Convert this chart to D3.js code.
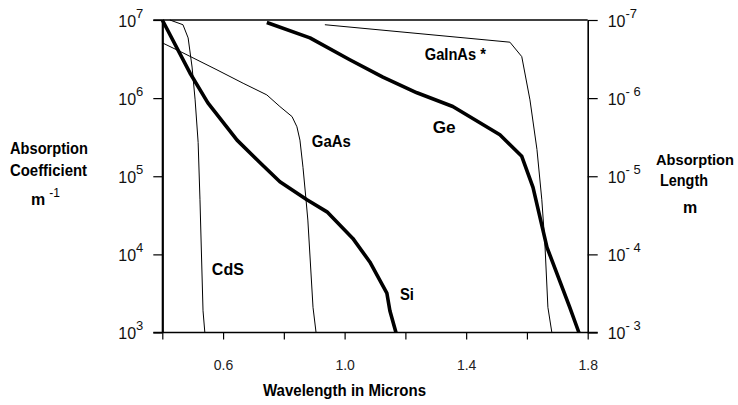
<!DOCTYPE html>
<html>
<head>
<meta charset="utf-8">
<script src="https://cdn.jsdelivr.net/npm/d3@7/dist/d3.min.js"></script>
<style>
  html, body { margin: 0; padding: 0; background: #fff; }
  svg { display: block; font-family: "Liberation Sans", Arial, Helvetica, sans-serif; }
</style>
</head>
<body>
<svg id="chart" width="738" height="405"></svg>
<script>
// ---------- data ----------
const wavelengthTicks = [0.4, 0.6, 0.8, 1.0, 1.2, 1.4, 1.6, 1.8];
const wavelengthLabels = [0.6, 1.0, 1.4, 1.8];
const alphaTicks = [1e3, 1e4, 1e5, 1e6, 1e7];
const alphaExponents = ["3", "4", "5", "6", "7"];
const lengthTicks = [1e-3, 1e-4, 1e-5, 1e-6, 1e-7];
const lengthExponents = ["- 3", "- 4", "- 5", "- 6", "-7"];

const siWavelength = [0.400, 0.491, 0.550, 0.646, 0.721, 0.787, 0.876, 0.942, 1.027, 1.083, 1.139, 1.149, 1.169];
const siAlpha      = [1e7, 2.1e6, 8.7e5, 2.9e5, 1.5e5, 8.5e4, 5.0e4, 3.5e4, 1.6e4, 8.0e3, 3.2e3, 1.9e3, 1e3];

const cdsWavelength = [0.425, 0.468, 0.485, 0.498, 0.508, 0.518, 0.524, 0.534, 0.540];
const cdsAlpha      = [1e7, 8.7e6, 5.9e6, 2.5e6, 9.5e5, 2.7e5, 5.0e4, 1.9e3, 1e3];

const gaasWavelength = [0.400, 0.468, 0.580, 0.666, 0.744, 0.787, 0.827, 0.843, 0.853, 0.863, 0.873, 0.879, 0.896, 0.906];
const gaasAlpha      = [5.1e6, 3.8e6, 2.3e6, 1.55e6, 1.1e6, 7.8e5, 5.8e5, 4.3e5, 2.9e5, 1.3e5, 5.0e4, 2.75e4, 2.1e3, 1e3];

const geWavelength = [0.744, 0.886, 1.017, 1.126, 1.238, 1.356, 1.511, 1.583, 1.620, 1.666, 1.741, 1.771];
const geAlpha      = [9.3e6, 5.9e6, 3.1e6, 1.86e6, 1.17e6, 7.8e5, 3.4e5, 1.8e5, 7.2e4, 1.23e4, 2.1e3, 1e3];

const gainasWavelength = [0.935, 1.544, 1.583, 1.610, 1.633, 1.649, 1.659, 1.669, 1.682];
const gainasAlpha      = [8.7e6, 5.2e6, 3.4e6, 9.5e5, 2.2e5, 5.0e4, 1.4e4, 2.1e3, 1e3];

const seriesNames = ["Si", "CdS", "GaAs", "Ge", "GaInAs *"];
// label anchors in data units (wavelength, alpha)
const labelWavelength = [1.182, 0.563, 0.892, 1.290, 1.264];
const labelAlpha      = [2.6e3, 5.4e3, 2.37e5, 3.57e5, 3.08e6];

// ---------- layout ----------
const svg = d3.select("#chart");
const x = d3.scaleLinear().domain([0.4, 1.8]).range([162.3, 587.7]);
const y = d3.scaleLog().domain([1e3, 1e7]).range([332.5, 20]);
const yR = d3.scaleLog().domain([1e-3, 1e-7]).range([332.5, 20]);

const series = [
  {w: siWavelength, a: siAlpha, width: 3.6},
  {w: cdsWavelength, a: cdsAlpha, width: 1},
  {w: gaasWavelength, a: gaasAlpha, width: 1},
  {w: geWavelength, a: geAlpha, width: 3.6},
  {w: gainasWavelength, a: gainasAlpha, width: 1}
];

// frame lines
const [x0, x1] = x.range();
const yTop = y(1e7), yBot = y(1e3);
svg.append("line").attr("x1", x0 - 9).attr("x2", x1).attr("y1", yTop).attr("y2", yTop)
  .attr("stroke", "#000").attr("stroke-width", 1.6);
svg.append("line").attr("x1", x0 - 9).attr("x2", x1 + 10).attr("y1", yBot).attr("y2", yBot)
  .attr("stroke", "#000").attr("stroke-width", 1.6);

// left axis
const gL = svg.append("g").attr("transform", `translate(${x0},0)`)
  .call(d3.axisLeft(y).tickValues(alphaTicks).tickSize(9).tickSizeOuter(0).tickFormat(""));
gL.select(".domain").attr("stroke-width", 2.2);
gL.selectAll(".tick line").attr("stroke-width", 1.2);
gL.selectAll(".tick").each(function(d, i) {
  const t = d3.select(this).append("text").attr("x", -19).attr("y", 6)
    .attr("text-anchor", "end").attr("fill", "#111").attr("font-size", 16);
  t.append("tspan").text("10");
  t.append("tspan").attr("font-size", 13).attr("dy", -9).text(alphaExponents[i]);
});

// right axis
const gR = svg.append("g").attr("transform", `translate(${x1},0)`)
  .call(d3.axisRight(yR).tickValues(lengthTicks).tickSize(10).tickSizeOuter(0).tickFormat(""));
gR.select(".domain").attr("stroke-width", 1.6);
gR.selectAll(".tick line").attr("stroke-width", 1.2);
gR.selectAll(".tick").each(function(d, i) {
  const t = d3.select(this).append("text").attr("x", 20).attr("y", 6)
    .attr("text-anchor", "start").attr("fill", "#111").attr("font-size", 16)
    .attr("xml:space", "preserve");
  t.append("tspan").text("10");
  t.append("tspan").attr("font-size", 13).attr("dy", -9).text(lengthExponents[i]);
});

// bottom axis
const gB = svg.append("g").attr("transform", `translate(0,${yBot})`)
  .call(d3.axisBottom(x).tickValues(wavelengthTicks).tickSize(7).tickSizeOuter(0)
    .tickFormat(d => wavelengthLabels.some(v => Math.abs(v - d) < 1e-9) ? d3.format(".1f")(d) : ""));
gB.select(".domain").remove();
gB.selectAll(".tick line").attr("stroke-width", 1.2);
gB.selectAll(".tick text").attr("font-size", 14).attr("fill", "#222")
  .attr("font-family", "Liberation Sans, Arial, sans-serif")
  .attr("dy", 0).attr("y", 37);

// curves
const line = d3.line().x(d => x(d[0])).y(d => y(d[1]));
series.forEach(s => {
  svg.append("path")
    .attr("d", line(s.w.map((w, i) => [w, s.a[i]])))
    .attr("fill", "none").attr("stroke", "#000")
    .attr("stroke-width", s.width).attr("stroke-linejoin", "round");
});

// curve labels
const labelWidths = [14, 32, 39, 23, 61];
seriesNames.forEach((n, i) => {
  svg.append("text").attr("x", x(labelWavelength[i])).attr("y", y(labelAlpha[i]))
    .attr("font-size", 17).attr("font-weight", "bold").attr("fill", "#000")
    .attr("textLength", labelWidths[i]).attr("lengthAdjust", "spacingAndGlyphs")
    .attr("xml:space", "preserve")
    .text(n);
});

// axis titles
function title(txt, tx, ty, w, size) {
  svg.append("text").attr("x", tx).attr("y", ty).attr("font-size", size || 16)
    .attr("font-weight", "bold").attr("fill", "#000")
    .attr("textLength", w).attr("lengthAdjust", "spacingAndGlyphs").text(txt);
}
title("Absorption", 10, 154, 78);
title("Coefficient", 10, 176, 77);
const mL = svg.append("text").attr("x", 31).attr("y", 205).attr("font-size", 16)
  .attr("font-weight", "bold").attr("fill", "#000");
mL.append("tspan").text("m");
mL.append("tspan").attr("dx", 4).attr("dy", -8).attr("font-size", 12).attr("font-weight", "normal").text("-1");

title("Absorption", 656, 165, 78, 15);
title("Length", 660, 186, 48);
svg.append("text").attr("x", 683).attr("y", 213).attr("font-size", 16)
  .attr("font-weight", "bold").attr("fill", "#000").text("m");
title("Wavelength in Microns", 263, 396, 163, 17);
</script>
</body>
</html>
